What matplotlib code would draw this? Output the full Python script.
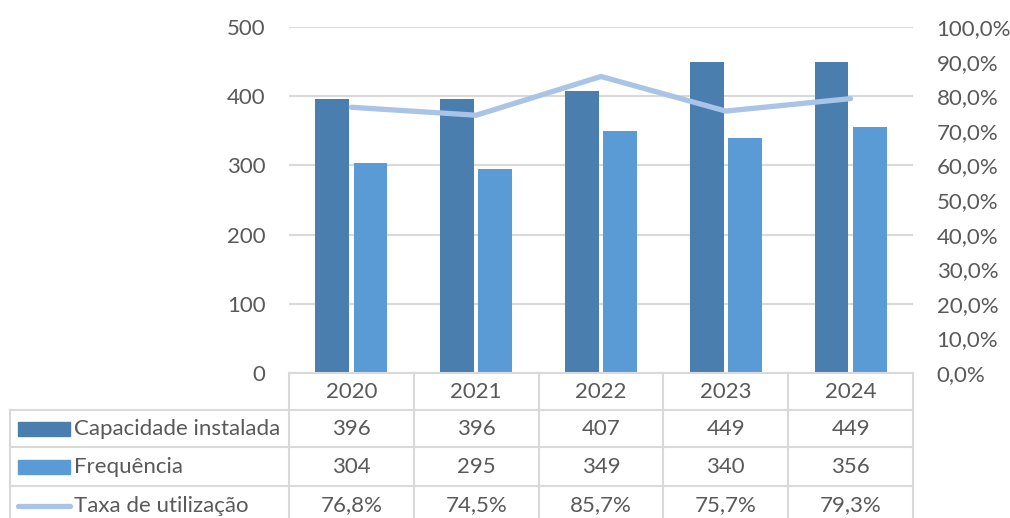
import matplotlib
matplotlib.use("Agg")
import matplotlib.pyplot as plt
from matplotlib.ticker import FuncFormatter, MultipleLocator
from matplotlib.patches import Rectangle
import numpy as np

plt.rcParams['font.family'] = ['Lato', 'DejaVu Sans']

years = ["2020", "2021", "2022", "2023", "2024"]
capacidade = [396, 396, 407, 449, 449]
frequencia = [304, 295, 349, 340, 356]
taxa = [76.8, 74.5, 85.7, 75.7, 79.3]
series_names = ["Capacidade instalada", "Frequência", "Taxa de utilização"]

C_DARK = "#4A7EAE"
C_LIGHT = "#5B9BD5"
C_LINE = "#A9C4E6"
C_GRID = "#D9D9D9"
C_TEXT = "#595959"
FS = 16

W, H = 1010, 518
fig = plt.figure(figsize=(W / 100, H / 100), dpi=100)

L, R, TOP, BOT = 289, 913, 27, 373
ax = fig.add_axes([L / W, 1 - BOT / H, (R - L) / W, (BOT - TOP) / H])
x = np.arange(len(years))
bw = 0.272
off = 0.153
ax.bar(x - off, capacidade, bw, color=C_DARK, zorder=3)
ax.bar(x + off, frequencia, bw, color=C_LIGHT, zorder=3)
ax.set_xlim(-0.5, len(years) - 0.5)
ax.set_ylim(0, 500)
ax.yaxis.set_major_locator(MultipleLocator(100))
ax.grid(axis='y', color=C_GRID, lw=1.5, zorder=0)
ax.set_axisbelow(True)
for s in ax.spines.values():
    s.set_visible(False)
ax.set_xticks([])
ax.tick_params(axis='y', length=0, pad=17, labelsize=FS, labelcolor=C_TEXT)

ax2 = ax.twinx()
ax2.plot(x, taxa, color=C_LINE, lw=3.8, solid_capstyle='round', zorder=4)
ax2.set_ylim(0, 100)
ax2.yaxis.set_major_locator(MultipleLocator(10))
ax2.yaxis.set_major_formatter(FuncFormatter(lambda v, p: f"{v:.1f}%".replace('.', ',')))
for s in ax2.spines.values():
    s.set_visible(False)
ax2.tick_params(axis='y', length=0, pad=17, labelsize=FS, labelcolor=C_TEXT)

# data table
axt = fig.add_axes([L / W, 0, (R - L) / W, (H - BOT) / H])
axt.set_xlim(-0.5, len(years) - 0.5)
axt.set_ylim(H, BOT)
axt.axis('off')
colw = (R - L) / len(years)
def px(p):
    return (p - L) / colw - 0.5

rows_y = [373, 410, 447, 486, 524]
lk = dict(color=C_GRID, lw=1.5, clip_on=False)
axt.plot([-0.5, len(years) - 0.5], [rows_y[0]] * 2, **lk)
for yy in rows_y[1:]:
    axt.plot([px(10), len(years) - 0.5], [yy, yy], **lk)
for i in range(len(years) + 1):
    axt.plot([i - 0.5, i - 0.5], [rows_y[0], rows_y[-1]], **lk)
axt.plot([px(10), px(10)], [rows_y[1], rows_y[-1]], **lk)

centers = [(rows_y[i] + rows_y[i + 1]) / 2 + 0.5 for i in range(4)]
for i, yv in enumerate(years):
    axt.text(i, centers[0], yv, ha='center', va='center', fontsize=FS, color=C_TEXT)
fmt_rows = [
    [str(v) for v in capacidade],
    [str(v) for v in frequencia],
    [f"{v:.1f}%".replace('.', ',') for v in taxa],
]
for r, vals in enumerate(fmt_rows):
    for i, s in enumerate(vals):
        axt.text(i, centers[r + 1], s, ha='center', va='center', fontsize=FS, color=C_TEXT)
    axt.text(px(74), centers[r + 1], series_names[r], ha='left', va='center',
             fontsize=FS, color=C_TEXT, clip_on=False)

# legend keys
for r, col in enumerate([C_DARK, C_LIGHT]):
    cy = centers[r + 1]
    axt.add_patch(Rectangle((px(18), cy - 7), px(70) - px(18), 14, color=col, clip_on=False))
axt.plot([px(18), px(70)], [centers[3], centers[3]], color=C_LINE, lw=3.8,
         solid_capstyle='round', clip_on=False)

fig.savefig("out.png", dpi=100)
